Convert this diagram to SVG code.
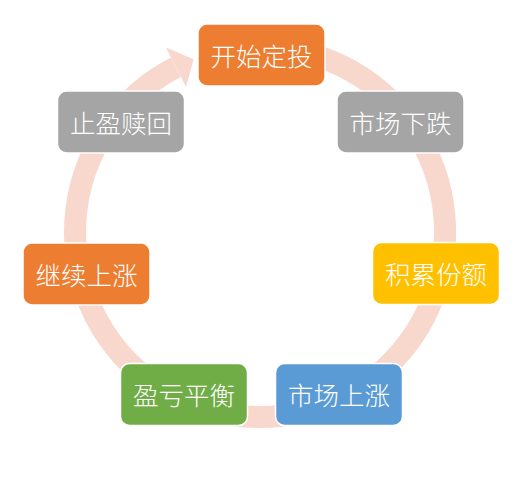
<svg xmlns="http://www.w3.org/2000/svg" width="529" height="478" viewBox="0 0 529 478">
<style>
.box{stroke:#ffffff;stroke-width:1.5}
.t{font-family:"Noto Sans CJK SC","Noto Sans",sans-serif;font-size:25.5px;font-weight:300;fill:#ffffff;text-anchor:middle;dominant-baseline:central}
</style>
<rect width="529" height="478" fill="#ffffff"/>
<g id="connectors">
<path d="M260,47 A185,185 0 1 1 176.0,67.2" fill="none" stroke="#F8D7CC" stroke-width="22"/>
<polygon points="166.0,47.6 193.7,59.3 186.0,86.8" fill="#F8D7CC"/>
</g>
<g id="n1"><rect class="box" x="198" y="24" width="127" height="62" rx="9" fill="#ED7D31"/><text class="t" x="261.5" y="54">开始定投</text></g>
<g id="n2"><rect class="box" x="337" y="91" width="127" height="62" rx="9" fill="#A5A5A5"/><text class="t" x="400.5" y="121">市场下跌</text></g>
<g id="n3"><rect class="box" x="372.5" y="242.5" width="127" height="62" rx="9" fill="#FFC000"/><text class="t" x="436" y="272.5">积累份额</text></g>
<g id="n4"><rect class="box" x="275.5" y="363.5" width="127" height="62" rx="9" fill="#5B9BD5"/><text class="t" x="339" y="393.5">市场上涨</text></g>
<g id="n5"><rect class="box" x="120.5" y="363.5" width="127" height="62" rx="9" fill="#70AD47"/><text class="t" x="184" y="393.5">盈亏平衡</text></g>
<g id="n6"><rect class="box" x="23" y="243" width="127" height="62" rx="9" fill="#ED7D31"/><text class="t" x="86.5" y="273">继续上涨</text></g>
<g id="n7"><rect class="box" x="57.5" y="91" width="127" height="62" rx="9" fill="#A5A5A5"/><text class="t" x="121" y="121">止盈赎回</text></g>
</svg>
